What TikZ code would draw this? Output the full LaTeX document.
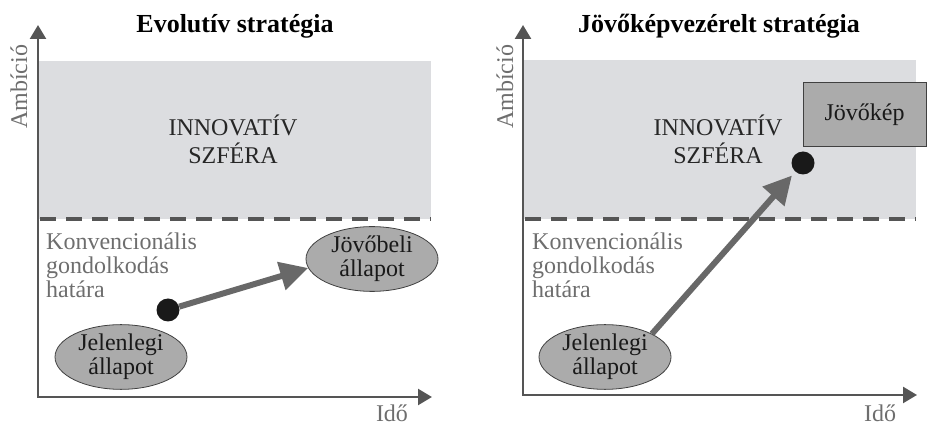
\documentclass[tikz,border=0pt]{standalone}
\usepackage{fontspec}
\setmainfont{Liberation Serif}
\usetikzlibrary{arrows.meta,shapes.geometric}
\definecolor{sphere}{HTML}{DCDDE0}
\definecolor{axisgray}{HTML}{555555}
\definecolor{flowgray}{HTML}{686868}
\definecolor{softtext}{HTML}{6E6E6E}
\definecolor{statefill}{HTML}{ABABAB}
\definecolor{edgegray}{HTML}{404040}
\begin{document}
\begin{tikzpicture}[x=1pt,y=-1pt,
  bodyfont/.style={font=\fontsize{24}{25}\selectfont},
  heading/.style={font=\bfseries\fontsize{26}{28}\selectfont, anchor=base, inner sep=0pt},
  axislabel/.style={bodyfont, text=softtext, inner sep=0pt},
  axisline/.style={draw=axisgray, line width=2.5pt,
    {Triangle[length=14pt,width=16pt]}-{Triangle[length=14pt,width=16pt]}},
  limitline/.style={draw=axisgray, line width=4pt, dash pattern=on 16pt off 10pt},
  sphere label/.style={font=\fontsize{24}{28}\selectfont, text=black!85, align=center, inner sep=0pt},
  boundary label/.style={font=\fontsize{24}{24}\selectfont, text=softtext, align=left, anchor=north west, inner sep=0pt},
  statenode/.style={ellipse, draw=edgegray, line width=0.8pt, fill=statefill, inner sep=0pt,
    minimum width=132pt, minimum height=61pt,
    align=center, font=\fontsize{24}{24}\selectfont, text=black!90},
  visionbox/.style={rectangle, draw=edgegray, line width=1pt, fill=statefill, inner sep=0pt,
    font=\fontsize{24}{24}\selectfont, text=black!90},
  dotnode/.style={circle, fill=black!90, minimum size=23pt, inner sep=0pt},
  flow/.style={draw=flowgray, line width=6pt, -{Triangle[length=28pt,width=28pt]}}
]
\useasboundingbox (0,0) rectangle (927,427);

% ---------- left panel: evolutionary strategy ----------
\fill[sphere] (38,61) rectangle (431,219);
\coordinate (l1a) at (40,219);
\coordinate (l1b) at (431,219);
\draw[limitline] (l1a) -- (l1b);

\coordinate (o1) at (38,397);
\coordinate (yt1) at (38,25);
\coordinate (xt1) at (432,397);
\draw[axisline] (yt1) -- (o1) -- (xt1);

\node[heading] (title1) at (235,33) {Evolutív stratégia};
\node[axislabel, rotate=90] (amb1) at (19,87) {Ambíció};
\node[axislabel, anchor=base] (time1) at (392,422) {Idő};
\node[sphere label] (innov1) at (233,139) {INNOVATÍV\\SZFÉRA};
\node[boundary label] (conv1) at (46,233) {Konvencionális\\gondolkodás\\határa};

\node[statenode] (now1) at (121,357) {Jelenlegi\\állapot};
\node[statenode] (future1) at (372,259) {Jövőbeli\\állapot};
\node[dotnode] (dot1) at (168,310) {};
\draw[flow] (dot1) -- (future1.188);

% ---------- right panel: vision-driven strategy ----------
\fill[sphere] (523,60) rectangle (916,219);
\coordinate (l2a) at (525,219);
\coordinate (l2b) at (916,219);
\draw[limitline] (l2a) -- (l2b);

\node[visionbox, minimum width=123pt, minimum height=64pt] (vision) at (864.5,115) {Jövőkép};

\coordinate (o2) at (523,395);
\coordinate (yt2) at (523,25);
\coordinate (xt2) at (917,395);
\draw[axisline] (yt2) -- (o2) -- (xt2);

\node[heading] (title2) at (719,33) {Jövőképvezérelt stratégia};
\node[axislabel, rotate=90] (amb2) at (505,87) {Ambíció};
\node[axislabel, anchor=base] (time2) at (880,422) {Idő};
\node[sphere label] (innov2) at (718,139) {INNOVATÍV\\SZFÉRA};
\node[boundary label] (conv2) at (532,233) {Konvencionális\\gondolkodás\\határa};

\node[statenode] (now2) at (605,357) {Jelenlegi\\állapot};
\node[dotnode] (dot2) at (803,163) {};
\draw[flow, shorten >=5pt] (now2.north east) -- (dot2);
\end{tikzpicture}
\end{document}
